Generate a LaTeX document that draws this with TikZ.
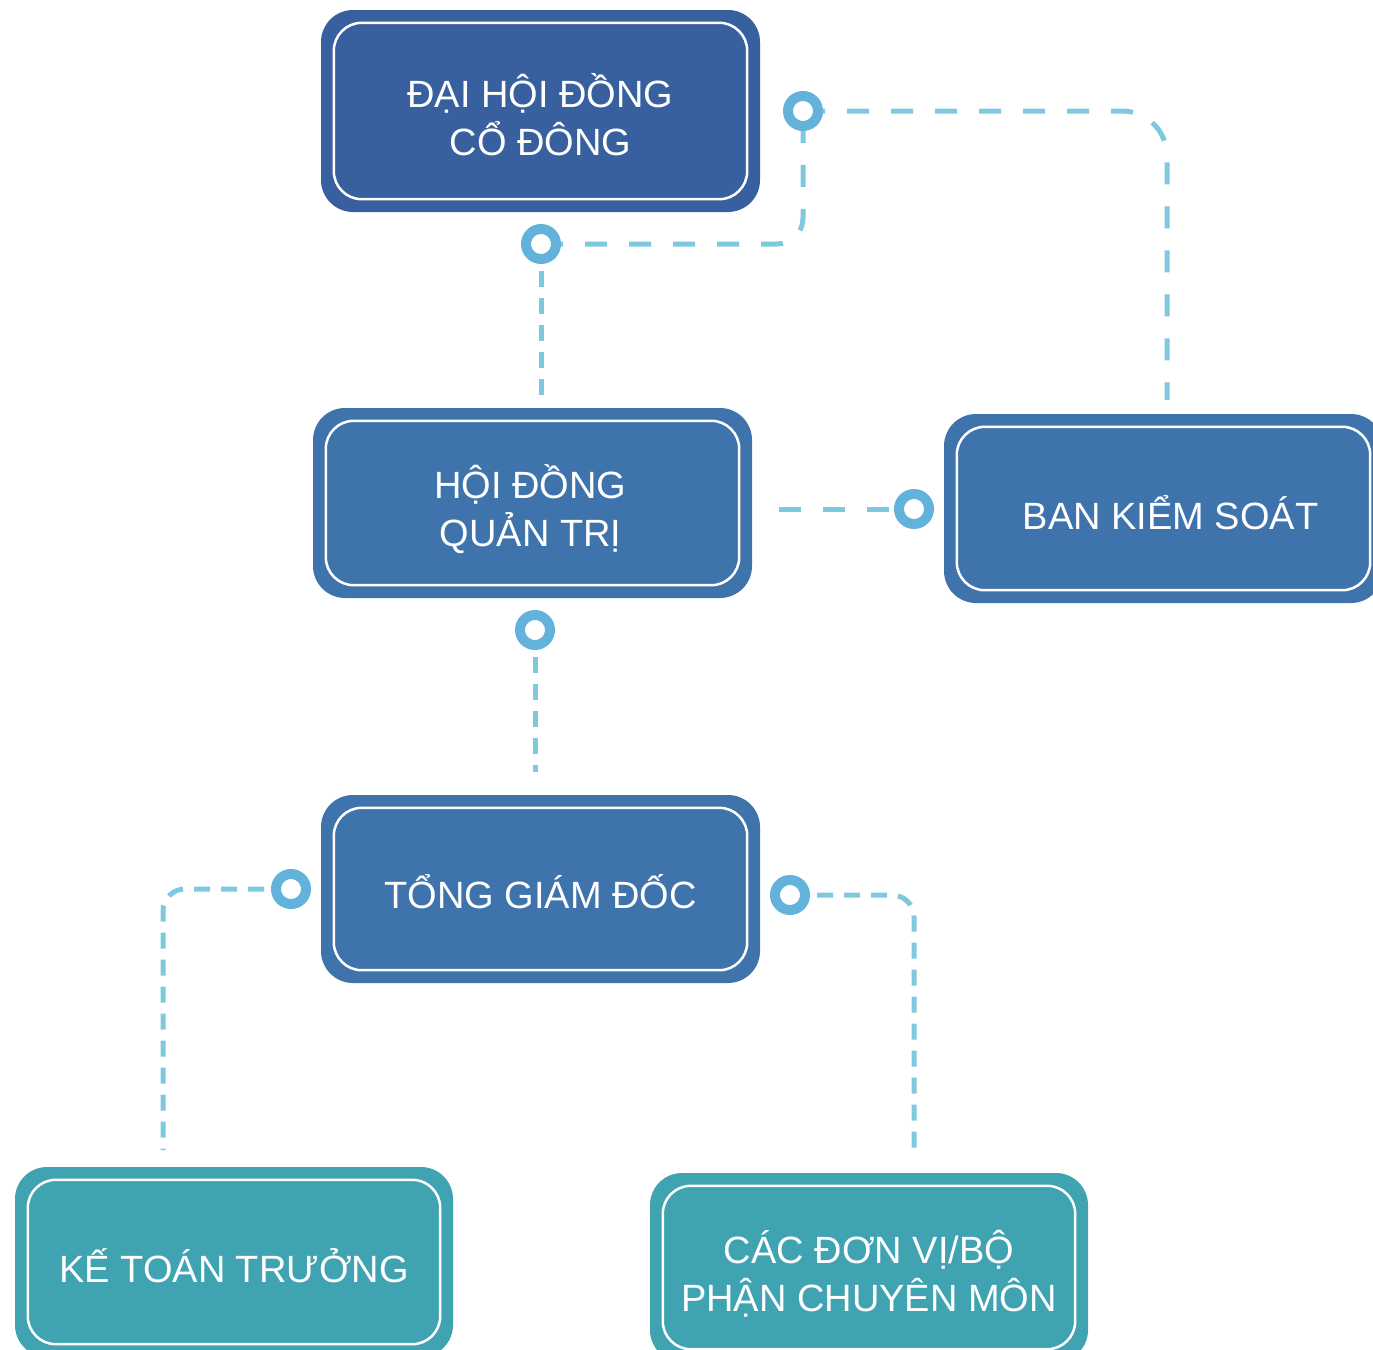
\documentclass[tikz,border=0pt]{standalone}
\usepackage{fontspec}
\setmainfont{Liberation Sans}
\definecolor{topblue}{HTML}{385F9E}
\definecolor{midblue}{HTML}{3F73AC}
\definecolor{tealbox}{HTML}{40A3B2}
\definecolor{dashcol}{HTML}{7EC8E0}
\definecolor{ringcol}{HTML}{62B2DB}
\tikzset{
  orgbox/.style={rectangle, rounded corners=32pt, inner sep=0pt},
  orgtext/.style={text=white, inner sep=0pt, font=\fontsize{38}{48}\selectfont, align=center},
  innerline/.style={draw=white, line width=2.5pt, rounded corners=28pt},
  ringnode/.style={circle, draw=ringcol, fill=white, line width=10pt, minimum size=30pt, inner sep=0pt},
  linkA/.style={draw=dashcol, line width=5pt, dash pattern=on 22pt off 22pt},
  linkB/.style={draw=dashcol, line width=5pt, dash pattern=on 16pt off 11pt},
}
\newcommand{\orgframe}[1]{\draw[innerline] ([shift={(13,13)}]#1.north west) rectangle ([shift={(-13,-13)}]#1.south east);}
\begin{document}
\begin{tikzpicture}[x=1pt,y=-1pt]
\useasboundingbox (0,0) rectangle (1373,1349);
\clip (0,0) rectangle (1373,1349);

% boxes
\node[orgbox, fill=topblue, minimum width=439pt, minimum height=202pt] (dhd) at (540.5,111) {};
\node[orgbox, fill=midblue, minimum width=439pt, minimum height=190pt] (hdqt) at (532.5,503) {};
\node[orgbox, fill=midblue, minimum width=439pt, minimum height=189pt] (bks) at (1163.5,508.5) {};
\node[orgbox, fill=midblue, minimum width=439pt, minimum height=188pt] (tgd) at (540.5,889) {};
\node[orgbox, fill=tealbox, minimum width=438pt, minimum height=190pt] (ktt) at (234,1262) {};
\node[orgbox, fill=tealbox, minimum width=438pt, minimum height=189pt] (dv) at (869,1267.5) {};
\orgframe{dhd}
\orgframe{hdqt}
\orgframe{bks}
\orgframe{tgd}
\orgframe{ktt}
\orgframe{dv}

% texts
\node[orgtext] (dhdtxt) at ([shift={(0,4)}]dhd.center) {ĐẠI HỘI ĐỒNG\\CỔ ĐÔNG};
\node[orgtext] (hdqttxt) at ([shift={(-2,6)}]hdqt.center) {HỘI ĐỒNG\\QUẢN TRỊ};
\node[orgtext] (bkstxt) at ([shift={(7,4)}]bks.center) {BAN KIỂM SOÁT};
\node[orgtext] (tgdtxt) at ([shift={(0,3)}]tgd.center) {TỔNG GIÁM ĐỐC};
\node[orgtext] (ktttxt) at ([shift={(0,4)}]ktt.center) {KẾ TOÁN TRƯỞNG};
\node[orgtext] (dvtxt) at ([shift={(0,6)}]dv.center) {CÁC ĐƠN VỊ/BỘ\\PHẬN CHUYÊN MÔN};

% connector points
\coordinate (p1) at (803,111);
\coordinate (p2) at (541,244);
\coordinate (p3) at (914,509);
\coordinate (p4) at (535,630);
\coordinate (p5) at (291,889);
\coordinate (p6) at (790,895);
\coordinate (e1) at (1167,400);
\coordinate (e3) at (541,395);
\coordinate (s4) at (779,509);
\coordinate (e5) at (535,772);
\coordinate (e6) at (163,1150);
\coordinate (e7) at (914,1150);

% dashed connectors
\draw[linkA, rounded corners=45pt] (p1) -| (e1);
\draw[linkA, rounded corners=26pt] (p2) -| (p1);
\draw[linkB] (p2) -- (e3);
\draw[linkA] (s4) -- (p3);
\draw[linkB] (p4) -- (e5);
\draw[linkB, rounded corners=22pt] (p5) -| (e6);
\draw[linkB, rounded corners=22pt] (p6) -| (e7);

% ring markers
\node[ringnode] (c1) at (p1) {};
\node[ringnode] (c2) at (p2) {};
\node[ringnode] (c3) at (p3) {};
\node[ringnode] (c4) at (p4) {};
\node[ringnode] (c5) at (p5) {};
\node[ringnode] (c6) at (p6) {};
\end{tikzpicture}
\end{document}
